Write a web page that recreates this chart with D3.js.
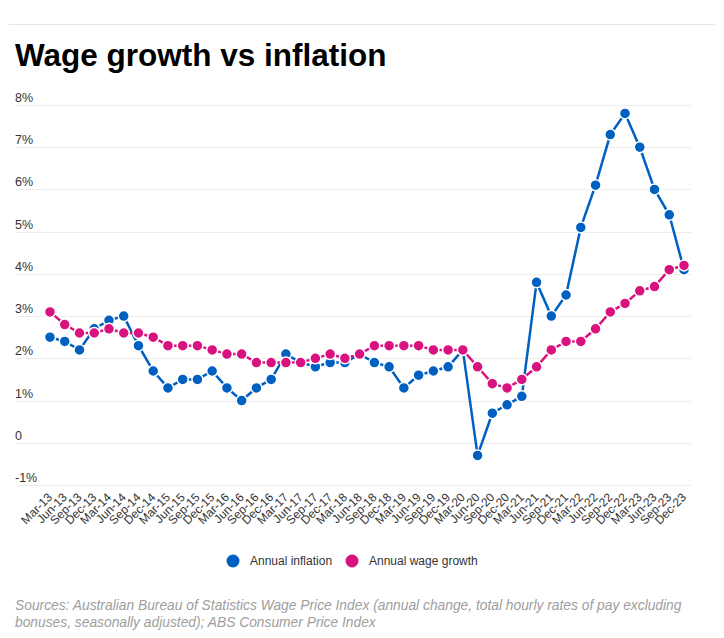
<!DOCTYPE html>
<html>
<head>
<meta charset="utf-8">
<script src="https://cdn.jsdelivr.net/npm/d3@7"></script>
<style>
  body { margin: 0; background: #fff; }
  text { font-family: Arial, "Liberation Sans", sans-serif; }
</style>
</head>
<body>
<div id="viz"></div>
<script>

var quarters = ["Mar-13","Jun-13","Sep-13","Dec-13","Mar-14","Jun-14","Sep-14","Dec-14",
	"Mar-15","Jun-15","Sep-15","Dec-15","Mar-16","Jun-16","Sep-16","Dec-16",
	"Mar-17","Jun-17","Sep-17","Dec-17","Mar-18","Jun-18","Sep-18","Dec-18",
	"Mar-19","Jun-19","Sep-19","Dec-19","Mar-20","Jun-20","Sep-20","Dec-20",
	"Mar-21","Jun-21","Sep-21","Dec-21","Mar-22","Jun-22","Sep-22","Dec-22",
	"Mar-23","Jun-23","Sep-23","Dec-23"];

var inflation = [2.5,2.4,2.2,2.7,2.9,3.0,2.3,1.7,
	1.3,1.5,1.5,1.7,1.3,1.0,1.3,1.5,
	2.1,1.9,1.8,1.9,1.9,2.1,1.9,1.8,
	1.3,1.6,1.7,1.8,2.2,-0.3,0.7,0.9,
	1.1,3.8,3.0,3.5,5.1,6.1,7.3,7.8,
	7.0,6.0,5.4,4.1];

var wages = [3.1,2.8,2.6,2.6,2.7,2.6,2.6,2.5,
	2.3,2.3,2.3,2.2,2.1,2.1,1.9,1.9,
	1.9,1.9,2.0,2.1,2.0,2.1,2.3,2.3,
	2.3,2.3,2.2,2.2,2.2,1.8,1.4,1.3,
	1.5,1.8,2.2,2.4,2.4,2.7,3.1,3.3,
	3.6,3.7,4.1,4.2];

var yTicks = [-1,0,1,2,3,4,5,6,7,8];

var series = [
	{ name: "Annual inflation", values: inflation, color: "#0060c1" },
	{ name: "Annual wage growth", values: wages, color: "#d8137f" }
];

var viz = { width: 724, height: 638 };

var svg = d3.select("#viz")
	.append("svg")
	.attr("width", viz.width)
	.attr("height", viz.height);

// top rule + title
svg.append("line")
	.attr("x1", 9).attr("x2", 715)
	.attr("y1", 24.5).attr("y2", 24.5)
	.attr("stroke", "#e6e6e6");

svg.append("text")
	.attr("x", 15)
	.attr("y", 66)
	.attr("font-size", 31.5)
	.attr("font-weight", "bold")
	.attr("fill", "#000")
	.text("Wage growth vs inflation");

var x = d3.scalePoint()
	.domain(quarters)
	.range([50, 684]);

var y = d3.scaleLinear()
	.domain([-1, 8])
	.range([485, 105]);

// gridlines with labels sitting above them
var grid = svg.append("g");

grid.selectAll(".grid")
	.data(yTicks).enter()
	.append("line")
	.attr("x1", 15).attr("x2", 691)
	.attr("y1", function(d) { return Math.round(y(d)) + 0.5 })
	.attr("y2", function(d) { return Math.round(y(d)) + 0.5 })
	.attr("stroke", "#ececec");

grid.selectAll(".ylab")
	.data(yTicks).enter()
	.append("text")
	.attr("x", 15)
	.attr("y", function(d) { return y(d) - 3 })
	.attr("font-size", 12.5)
	.attr("fill", "#333")
	.text(function(d) { return d === 0 ? "0" : d + "%" });

// rotated quarter labels
svg.selectAll(".xlab")
	.data(quarters).enter()
	.append("text")
	.attr("transform", function(d) { return "translate(" + (x(d) + 3) + ",498) rotate(-45)" })
	.attr("text-anchor", "end")
	.attr("font-size", 12)
	.attr("fill", "#333")
	.text(function(d) { return d });

var line = d3.line()
	.x(function(d, i) { return x(quarters[i]) })
	.y(function(d) { return y(d) });

series.forEach(function(s) {
	var g = svg.append("g");
	g.append("path")
		.attr("d", line(s.values))
		.attr("fill", "none")
		.attr("stroke", s.color)
		.attr("stroke-width", 2.5);
	g.selectAll("circle")
		.data(s.values).enter()
		.append("circle")
		.attr("cx", function(d, i) { return x(quarters[i]) })
		.attr("cy", function(d) { return y(d) })
		.attr("r", 5.5)
		.attr("fill", s.color)
		.attr("stroke", "#fff")
		.attr("stroke-width", 1.5);
});

// legend
var legendPos = [233, 352];
var legend = svg.selectAll(".legend")
	.data(series).enter()
	.append("g")
	.attr("transform", function(d, i) { return "translate(" + legendPos[i] + ",561)" });

legend.append("circle")
	.attr("r", 6.5)
	.attr("fill", function(d) { return d.color });

legend.append("text")
	.attr("x", 17)
	.attr("y", 4)
	.attr("font-size", 12)
	.attr("fill", "#333")
	.text(function(d) { return d.name });

// source note
var source = ["Sources: Australian Bureau of Statistics Wage Price Index (annual change, total hourly rates of pay excluding",
	"bonuses, seasonally adjusted); ABS Consumer Price Index"];

svg.selectAll(".source")
	.data(source).enter()
	.append("text")
	.attr("x", 15)
	.attr("y", function(d, i) { return 610 + i * 17 })
	.attr("font-size", 13.8)
	.attr("font-style", "italic")
	.attr("fill", "#9e9e9e")
	.text(function(d) { return d });

</script>
</body>
</html>
